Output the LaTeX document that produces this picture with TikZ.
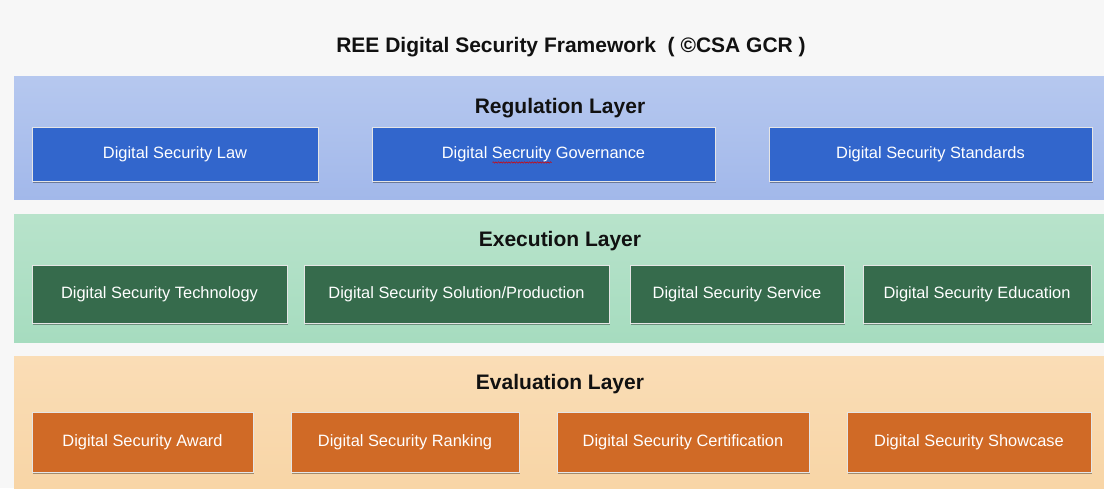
\documentclass[tikz,border=0pt]{standalone}
\usepackage{fontspec}
\setmainfont{Liberation Sans}
\usetikzlibrary{shadows,decorations.pathmorphing}
\definecolor{bgc}{HTML}{F7F7F7}
\definecolor{regtop}{HTML}{B6C8EF}
\definecolor{regbot}{HTML}{A2B8EA}
\definecolor{exetop}{HTML}{B8E3CB}
\definecolor{exebot}{HTML}{A6DCBF}
\definecolor{evatop}{HTML}{FADDB6}
\definecolor{evabot}{HTML}{F8D5A6}
\definecolor{bluebox}{HTML}{3266CC}
\definecolor{greenbox}{HTML}{366B4C}
\definecolor{orangebox}{HTML}{D06A26}
\definecolor{titlec}{HTML}{111111}
\begin{document}
\begin{tikzpicture}[x=1pt,y=-1pt,
  layertitle/.style={font=\bfseries\fontsize{21}{25}\selectfont, text=titlec, inner sep=0pt},
  box/.style={draw=white!80!gray, line width=0.8pt, text=white,
    font=\fontsize{16.4}{19}\selectfont, inner sep=0pt,
    drop shadow={shadow xshift=1pt, shadow yshift=-1.6pt, opacity=0.35, fill=black}},
  regbox/.style={box, fill=bluebox, minimum height=54pt},
  exebox/.style={box, fill=greenbox, minimum height=58pt},
  evabox/.style={box, fill=orangebox, minimum height=60pt},
  squiggle/.style={draw=red!85!black, line width=0.5pt,
    decorate, decoration={snake, amplitude=0.7pt, segment length=2.6pt}}]
% background
\fill[bgc] (0,0) rectangle (1104,488);
\useasboundingbox (0,0) rectangle (1104,488);
% bands
\shade[top color=regtop, bottom color=regbot] (14,76) rectangle (1104,199);
\shade[top color=exetop, bottom color=exebot] (14,214) rectangle (1104,342);
\shade[top color=evatop, bottom color=evabot] (14,356) rectangle (1104,488);
% title
\node[layertitle] (title) at (571,47) {REE Digital Security Framework \ ( ©CSA GCR )};
% regulation layer
\node[layertitle] (regt) at (560,108) {Regulation Layer};
\node[regbox, minimum width=286pt] (law) at (175,154) {Digital Security Law};
\node[regbox, minimum width=343pt] (gov) at (543.5,154) {Digital Secruity Governance};
\node[regbox, minimum width=323pt] (std) at (930.5,154) {Digital Security Standards};
\draw[squiggle] ([xshift=-51pt,yshift=-8.5pt]gov.center) -- ++(59pt,0);
% execution layer
\node[layertitle] (exet) at (560,241) {Execution Layer};
\node[exebox, minimum width=255pt] (tech) at (159.5,294) {Digital Security Technology};
\node[exebox, minimum width=305pt] (sol) at (456.5,294) {Digital Security Solution/Production};
\node[exebox, minimum width=214pt] (serv) at (737,294) {Digital Security Service};
\node[exebox, minimum width=228pt] (edu) at (977,294) {Digital Security Education};
% evaluation layer
\node[layertitle] (evat) at (560,384) {Evaluation Layer};
\node[evabox, minimum width=221pt] (award) at (142.5,442.5) {Digital Security Award};
\node[evabox, minimum width=228pt] (rank) at (405,442.5) {Digital Security Ranking};
\node[evabox, minimum width=252pt] (cert) at (683,442.5) {Digital Security Certification};
\node[evabox, minimum width=244pt] (show) at (969,442.5) {Digital Security Showcase};
\end{tikzpicture}
\end{document}
